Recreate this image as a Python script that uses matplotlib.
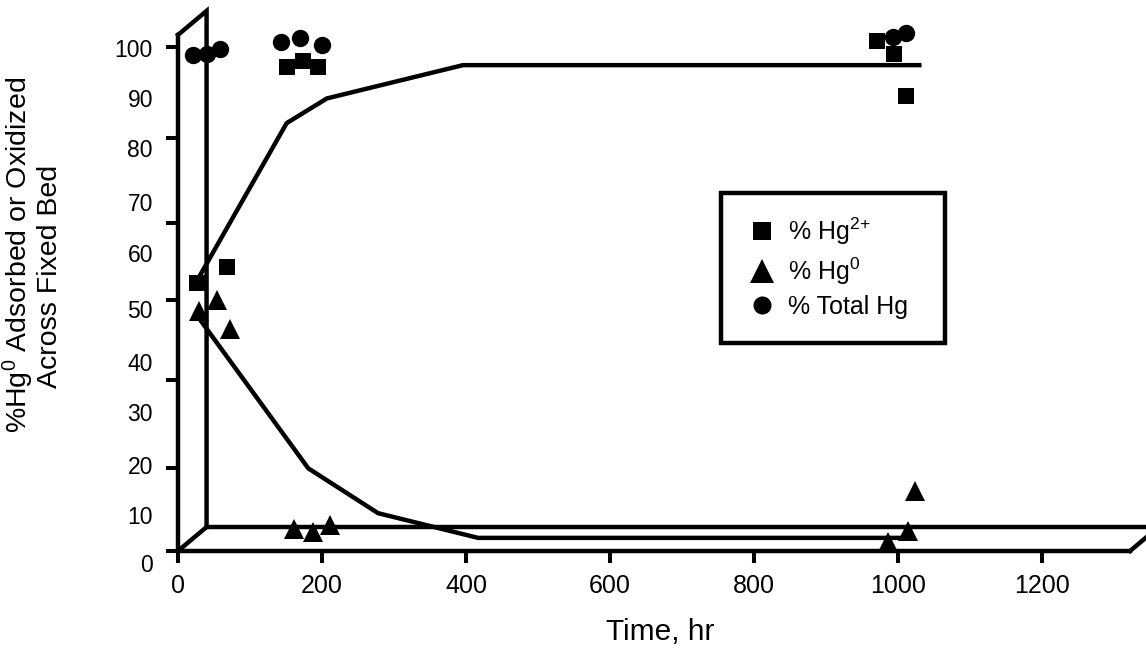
import matplotlib
matplotlib.use('Agg')
import matplotlib.pyplot as plt
from matplotlib.patches import Rectangle

plt.rcParams['font.family'] = ['Liberation Sans', 'DejaVu Sans']
plt.rcParams['mathtext.fontset'] = 'custom'
plt.rcParams['mathtext.rm'] = 'Liberation Sans'
plt.rcParams['mathtext.it'] = 'Liberation Sans:italic'

# measured points (time in hr, percent)
hg2_time = [26, 68, 152, 173, 195, 971, 995, 1012]
hg2_pct = [53.1, 56.3, 96.0, 97.3, 96.0, 101.1, 98.7, 90.3]
hg0_time = [29, 54, 72, 161, 187, 211, 987, 1015, 1024]
hg0_pct = [47.7, 49.8, 44.0, 4.4, 3.7, 5.2, 1.8, 3.9, 12.0]
tot_time = [21, 40, 58, 143, 170, 200, 994, 1012]
tot_pct = [98.4, 98.7, 99.7, 100.9, 101.7, 100.4, 102.0, 102.7]

# trend lines
hg2_fit_t = [31, 151, 207, 396, 1030]
hg2_fit_v = [54.8, 84.9, 89.8, 96.4, 96.4]
hg0_fit_t = [26, 181, 278, 417, 1010]
hg0_fit_v = [46.8, 16.4, 7.5, 2.6, 2.6]

xticks = [0, 200, 400, 600, 800, 1000, 1200]
ylabels = ['100', '90', '80', '70', '60', '50', '40', '30', '20', '10', '0']
ylabel_pos = [99.8, 89.9, 80.0, 69.2, 59.1, 48.0, 37.5, 27.6, 17.1, 7.1, -2.4]
ytick_marks = [0, 16.4, 33.9, 49.7, 65.1, 81.9, 100]

W, H = 1146, 656
fig = plt.figure(figsize=(W / 100, H / 100), dpi=100)
ax = fig.add_axes([178 / W, (H - 566.1) / H, 968 / W, (566.1 - 10) / H])
ax.set_xlim(0, 1345)
ax.set_ylim(-3, 107.34)

lw = 3.2
# pseudo 3d frame
depth_x, depth_y = 39.7, 4.76
front_top = 102.4
floor_end = 1322.8
ax.plot([0, depth_x, depth_x], [front_top, front_top + depth_y, depth_y],
        color='black', lw=lw, clip_on=False, solid_joinstyle='miter')
ax.plot([0, depth_x], [0, depth_y], color='black', lw=lw, clip_on=False)
ax.plot([depth_x, floor_end + depth_x], [depth_y, depth_y], color='black', lw=lw, clip_on=False)
ax.plot([floor_end, floor_end + depth_x], [0, depth_y], color='black', lw=lw, clip_on=False)

for s in ['top', 'right']:
    ax.spines[s].set_visible(False)
ax.spines['left'].set_bounds(0, front_top)
ax.spines['bottom'].set_position(('data', 0))
ax.spines['bottom'].set_bounds(0, floor_end)
for s in ['left', 'bottom']:
    ax.spines[s].set_linewidth(lw)

# trend lines
ax.plot(hg2_fit_t, hg2_fit_v, color='black', lw=lw)
ax.plot(hg0_fit_t, hg0_fit_v, color='black', lw=lw)

ax.plot(hg2_time, hg2_pct, 's', color='black', ms=11.5, mew=0, label='% Hg$^{\\text{2+}}$', clip_on=False)
ax.plot(hg0_time, hg0_pct, '^', color='black', ms=15, mew=0, label='% Hg$^{\\text{0}}$', clip_on=False)
ax.plot(tot_time, tot_pct, 'o', color='black', ms=12.5, mew=0, label='% Total Hg', clip_on=False)

ax.set_xticks(xticks)
ax.tick_params(axis='x', direction='out', length=8.6, width=2.9, pad=8, labelsize=18)
ax.set_yticks(ylabel_pos, labels=ylabels)
ax.tick_params(axis='y', which='major', length=0, pad=18, labelsize=16.5)
ax.set_yticks(ytick_marks, minor=True)
ax.tick_params(axis='y', which='minor', direction='out', length=8.6, width=2.9)

leg = ax.legend(loc='center', bbox_to_anchor=(830 / W, 1 - 267.5 / H),
                bbox_transform=fig.transFigure, frameon=False, borderpad=0,
                borderaxespad=0, handlelength=0.78, handletextpad=0.62,
                labelspacing=0.33, fontsize=18)
for h, ms in zip(leg.legend_handles, [13, 17, 13]):
    h.set_markersize(ms)
fig.add_artist(Rectangle((721 / W, 1 - 343 / H), 224 / W, 150 / H, transform=fig.transFigure,
                         fill=False, lw=lw, edgecolor='black', joinstyle='miter'))

fig.text(18 / W, 1 - 255 / H, '%Hg$^{\\text{0}}$ Adsorbed or Oxidized', rotation=90,
         ha='center', va='center', fontsize=20.5)
fig.text(50 / W, 1 - 276 / H, 'Across Fixed Bed', rotation=90,
         ha='center', va='center', fontsize=20.5)
fig.text(660 / W, 1 - 632 / H, 'Time, hr', ha='center', va='center', fontsize=21.5)

fig.savefig('out.png', dpi=100)
